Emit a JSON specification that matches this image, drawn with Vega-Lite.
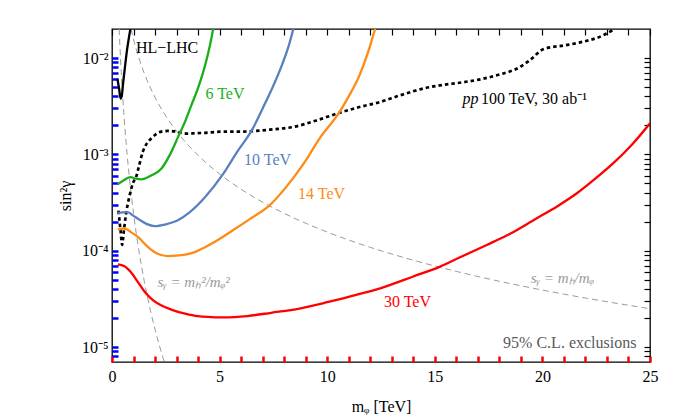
{
  "$schema": "https://vega.github.io/schema/vega-lite/v6.json",
  "width": 538,
  "height": 333,
  "autosize": {"type": "none"},
  "padding": {"left": 112, "top": 29, "right": 36, "bottom": 56},
  "background": "white",
  "config": {
    "view": {"stroke": "black", "strokeWidth": 1.3}
  },
  "datasets": {
    "curves": [
      {"s": "HL", "x": 0.25, "y": 0.0061}, {"s": "HL", "x": 0.33, "y": 0.0048}, {"s": "HL", "x": 0.40, "y": 0.0038}, {"s": "HL", "x": 0.45, "y": 0.0040}, {"s": "HL", "x": 0.52, "y": 0.0056}, {"s": "HL", "x": 0.60, "y": 0.0080}, {"s": "HL", "x": 0.70, "y": 0.0122}, {"s": "HL", "x": 0.80, "y": 0.0170}, {"s": "HL", "x": 0.88, "y": 0.0215},
      {"s": "g6", "x": 0.27, "y": 0.00049}, {"s": "g6", "x": 0.5, "y": 0.00053}, {"s": "g6", "x": 0.86, "y": 0.00058}, {"s": "g6", "x": 1.1, "y": 0.00056}, {"s": "g6", "x": 1.36, "y": 0.00055}, {"s": "g6", "x": 1.8, "y": 0.0006}, {"s": "g6", "x": 2.29, "y": 0.00071}, {"s": "g6", "x": 2.7, "y": 0.001}, {"s": "g6", "x": 3.06, "y": 0.0015}, {"s": "g6", "x": 3.4, "y": 0.0022}, {"s": "g6", "x": 3.68, "y": 0.0032}, {"s": "g6", "x": 4.0, "y": 0.0049}, {"s": "g6", "x": 4.3, "y": 0.008}, {"s": "g6", "x": 4.55, "y": 0.0135}, {"s": "g6", "x": 4.72, "y": 0.021},
      {"s": "b10", "x": 0.27, "y": 0.000247}, {"s": "b10", "x": 0.5, "y": 0.00025}, {"s": "b10", "x": 0.73, "y": 0.000252}, {"s": "b10", "x": 1.0, "y": 0.00023}, {"s": "b10", "x": 1.2, "y": 0.000215}, {"s": "b10", "x": 1.6, "y": 0.00019}, {"s": "b10", "x": 1.97, "y": 0.00018}, {"s": "b10", "x": 2.5, "y": 0.000188}, {"s": "b10", "x": 3.06, "y": 0.000207}, {"s": "b10", "x": 3.6, "y": 0.00025}, {"s": "b10", "x": 4.3, "y": 0.000355}, {"s": "b10", "x": 5.15, "y": 0.00062}, {"s": "b10", "x": 5.8, "y": 0.00105}, {"s": "b10", "x": 6.54, "y": 0.00185}, {"s": "b10", "x": 7.0, "y": 0.003}, {"s": "b10", "x": 7.47, "y": 0.005}, {"s": "b10", "x": 7.9, "y": 0.0085}, {"s": "b10", "x": 8.2, "y": 0.0131}, {"s": "b10", "x": 8.45, "y": 0.021},
      {"s": "o14", "x": 0.27, "y": 0.000166}, {"s": "o14", "x": 0.58, "y": 0.00017}, {"s": "o14", "x": 0.9, "y": 0.000155}, {"s": "o14", "x": 1.2, "y": 0.000139}, {"s": "o14", "x": 1.6, "y": 0.000113}, {"s": "o14", "x": 1.97, "y": 0.000097}, {"s": "o14", "x": 2.59, "y": 0.000088}, {"s": "o14", "x": 3.0, "y": 0.000089}, {"s": "o14", "x": 3.52, "y": 0.000092}, {"s": "o14", "x": 3.9, "y": 0.000098}, {"s": "o14", "x": 4.3, "y": 0.000108}, {"s": "o14", "x": 4.92, "y": 0.000129}, {"s": "o14", "x": 5.6, "y": 0.000162}, {"s": "o14", "x": 6.4, "y": 0.000213}, {"s": "o14", "x": 7.32, "y": 0.000296}, {"s": "o14", "x": 8.4, "y": 0.00056}, {"s": "o14", "x": 9.0, "y": 0.00086}, {"s": "o14", "x": 9.64, "y": 0.00146}, {"s": "o14", "x": 10.57, "y": 0.00274}, {"s": "o14", "x": 11.0, "y": 0.004}, {"s": "o14", "x": 11.5, "y": 0.0066}, {"s": "o14", "x": 11.9, "y": 0.0115}, {"s": "o14", "x": 12.25, "y": 0.021},
      {"s": "r30", "x": 0.27, "y": 0.000072}, {"s": "r30", "x": 0.58, "y": 0.000069}, {"s": "r30", "x": 0.9, "y": 0.000059}, {"s": "r30", "x": 1.2, "y": 0.0000475}, {"s": "r30", "x": 1.5, "y": 0.000038}, {"s": "r30", "x": 1.9, "y": 0.0000307}, {"s": "r30", "x": 2.3, "y": 0.000027}, {"s": "r30", "x": 2.75, "y": 0.0000245}, {"s": "r30", "x": 3.4, "y": 0.0000222}, {"s": "r30", "x": 3.99, "y": 0.0000209}, {"s": "r30", "x": 4.6, "y": 0.0000205}, {"s": "r30", "x": 5.23, "y": 0.0000203}, {"s": "r30", "x": 6.3, "y": 0.000021}, {"s": "r30", "x": 7.4, "y": 0.0000227}, {"s": "r30", "x": 8.71, "y": 0.0000251}, {"s": "r30", "x": 10.0, "y": 0.0000292}, {"s": "r30", "x": 11.11, "y": 0.0000338}, {"s": "r30", "x": 12.5, "y": 0.000041}, {"s": "r30", "x": 14.0, "y": 0.000054}, {"s": "r30", "x": 15.22, "y": 0.000068}, {"s": "r30", "x": 16.3, "y": 0.000088}, {"s": "r30", "x": 17.39, "y": 0.000114}, {"s": "r30", "x": 18.5, "y": 0.00015}, {"s": "r30", "x": 19.7, "y": 0.000215}, {"s": "r30", "x": 20.7, "y": 0.00029}, {"s": "r30", "x": 21.57, "y": 0.00039}, {"s": "r30", "x": 22.5, "y": 0.00057}, {"s": "r30", "x": 23.27, "y": 0.0008}, {"s": "r30", "x": 24.2, "y": 0.00129}, {"s": "r30", "x": 25.0, "y": 0.0021},
      {"s": "pp", "x": 0.3, "y": 0.00026}, {"s": "pp", "x": 0.4, "y": 0.00016}, {"s": "pp", "x": 0.47, "y": 0.000115}, {"s": "pp", "x": 0.55, "y": 0.00016}, {"s": "pp", "x": 0.65, "y": 0.00024}, {"s": "pp", "x": 0.8, "y": 0.00036}, {"s": "pp", "x": 1.0, "y": 0.00052}, {"s": "pp", "x": 1.12, "y": 0.00058}, {"s": "pp", "x": 1.25, "y": 0.00075}, {"s": "pp", "x": 1.43, "y": 0.00106}, {"s": "pp", "x": 1.62, "y": 0.0013}, {"s": "pp", "x": 1.82, "y": 0.00146}, {"s": "pp", "x": 2.05, "y": 0.00162}, {"s": "pp", "x": 2.29, "y": 0.00172}, {"s": "pp", "x": 2.6, "y": 0.00175}, {"s": "pp", "x": 2.9, "y": 0.00173}, {"s": "pp", "x": 3.2, "y": 0.00168}, {"s": "pp", "x": 3.52, "y": 0.00164}, {"s": "pp", "x": 3.9, "y": 0.00166}, {"s": "pp", "x": 4.3, "y": 0.00167}, {"s": "pp", "x": 5.07, "y": 0.00172}, {"s": "pp", "x": 5.8, "y": 0.00172}, {"s": "pp", "x": 6.54, "y": 0.00174}, {"s": "pp", "x": 7.5, "y": 0.00182}, {"s": "pp", "x": 8.4, "y": 0.00192}, {"s": "pp", "x": 9.5, "y": 0.00225}, {"s": "pp", "x": 10.57, "y": 0.0027}, {"s": "pp", "x": 11.5, "y": 0.0031}, {"s": "pp", "x": 12.43, "y": 0.00348}, {"s": "pp", "x": 13.36, "y": 0.00408}, {"s": "pp", "x": 14.75, "y": 0.00498}, {"s": "pp", "x": 15.22, "y": 0.00519}, {"s": "pp", "x": 16.3, "y": 0.0056}, {"s": "pp", "x": 17.23, "y": 0.00608}, {"s": "pp", "x": 17.85, "y": 0.00659}, {"s": "pp", "x": 18.94, "y": 0.00803}, {"s": "pp", "x": 19.4, "y": 0.0094}, {"s": "pp", "x": 20.06, "y": 0.0124}, {"s": "pp", "x": 21.0, "y": 0.0135}, {"s": "pp", "x": 21.8, "y": 0.0146}, {"s": "pp", "x": 22.8, "y": 0.0171}, {"s": "pp", "x": 23.35, "y": 0.02},
      {"s": "d1", "x": 0.884, "y": 0.02}, {"s": "d1", "x": 1.0, "y": 0.015625}, {"s": "d1", "x": 1.25, "y": 0.01}, {"s": "d1", "x": 1.5, "y": 0.006944}, {"s": "d1", "x": 2.0, "y": 0.003906}, {"s": "d1", "x": 2.5, "y": 0.0025}, {"s": "d1", "x": 3.0, "y": 0.001736}, {"s": "d1", "x": 4.0, "y": 0.0009766}, {"s": "d1", "x": 5.0, "y": 0.000625}, {"s": "d1", "x": 6.0, "y": 0.000434}, {"s": "d1", "x": 7.0, "y": 0.000319}, {"s": "d1", "x": 8.0, "y": 0.000244}, {"s": "d1", "x": 10.0, "y": 0.00015625}, {"s": "d1", "x": 12.0, "y": 0.0001085}, {"s": "d1", "x": 14.0, "y": 0.0000797}, {"s": "d1", "x": 16.0, "y": 0.000061}, {"s": "d1", "x": 18.0, "y": 0.0000482}, {"s": "d1", "x": 20.0, "y": 0.00003906}, {"s": "d1", "x": 22.0, "y": 0.0000323}, {"s": "d1", "x": 25.0, "y": 0.000025},
      {"s": "d2", "x": 0.332, "y": 0.02}, {"s": "d2", "x": 0.4, "y": 0.009537}, {"s": "d2", "x": 0.5, "y": 0.003906}, {"s": "d2", "x": 0.6, "y": 0.001884}, {"s": "d2", "x": 0.7, "y": 0.001017}, {"s": "d2", "x": 0.8, "y": 0.000596}, {"s": "d2", "x": 1.0, "y": 0.000244}, {"s": "d2", "x": 1.2, "y": 0.0001177}, {"s": "d2", "x": 1.5, "y": 0.0000482}, {"s": "d2", "x": 1.8, "y": 0.00002325}, {"s": "d2", "x": 2.0, "y": 0.00001526}, {"s": "d2", "x": 2.2, "y": 0.00001042}, {"s": "d2", "x": 2.43, "y": 0.000007}
    ],
    "labels": [
      {"s": "HL", "x": 2.56, "y": 0.01264, "t": "HL−LHC"},
      {"s": "g6", "x": 5.25, "y": 0.00426, "t": "6 TeV"},
      {"s": "b10", "x": 7.23, "y": 0.000867, "t": "10 TeV"},
      {"s": "o14", "x": 9.74, "y": 0.000392, "t": "14 TeV"},
      {"s": "r30", "x": 13.73, "y": 0.0000295, "t": "30 TeV"}
    ],
    "pplab": [{"x": 16.29, "y": 0.00378, "t": "pp"}],
    "pplab2": [{"x": 17.15, "y": 0.00378, "t": "100 TeV, 30 ab⁻¹"}],
    "slabs": [
      {"x": 3.79, "y": 0.0000475, "t": "sᵧ = mₕ²/mᵩ²"},
      {"x": 20.93, "y": 0.0000515, "t": "sᵧ = mₕ/mᵩ"}
    ],
    "cl": [{"x": 24.37, "y": 0.0000109, "t": "95% C.L. exclusions"}]
  },
  "resolve": {"axis": {"x": "independent", "y": "independent"}},
  "layer": [
    {
      "data": {"name": "curves"},
      "transform": [{"filter": "datum.s == 'd1' || datum.s == 'd2'"}],
      "mark": {"type": "line", "interpolate": "monotone", "color": "#9a9a9a", "strokeWidth": 1, "strokeDash": [6, 4], "clip": true},
      "encoding": {
        "x": {
          "field": "x", "type": "quantitative",
          "scale": {"domain": [0, 25], "nice": false, "zero": false},
          "axis": {
            "orient": "bottom",
            "values": [0,1,2,3,4,5,6,7,8,9,10,11,12,13,14,15,16,17,18,19,20,21,22,23,24,25],
            "labelExpr": "datum.value % 5 == 0 ? datum.label : ''",
            "tickSize": -6, "tickColor": "#ff0000", "tickWidth": 2.5,
            "domain": false, "grid": false,
            "labelFlush": false, "labelOverlap": false,
            "labelFont": "Liberation Serif", "labelFontSize": 16, "labelColor": "black",
            "labelPadding": 12,
            "title": "mᵩ  [TeV]", "titleFont": "Liberation Serif", "titleFontSize": 16,
            "titleFontWeight": "normal", "titleColor": "black", "titlePadding": 14
          }
        },
        "y": {
          "field": "y", "type": "quantitative",
          "scale": {"type": "log", "domain": [0.000007, 0.02], "nice": false},
          "axis": {
            "orient": "left",
            "values": [0.000008,0.000009,0.00001,0.00002,0.00003,0.00004,0.00005,0.00006,0.00007,0.00008,0.00009,0.0001,0.0002,0.0003,0.0004,0.0005,0.0006,0.0007,0.0008,0.0009,0.001,0.002,0.003,0.004,0.005,0.006,0.007,0.008,0.009,0.01],
            "labelExpr": "datum.value == 0.01 ? '10⁻²' : datum.value == 0.001 ? '10⁻³' : datum.value == 0.0001 ? '10⁻⁴' : datum.value == 0.00001 ? '10⁻⁵' : ''",
            "tickSize": -6, "tickColor": "#0000ff", "tickWidth": 2.5,
            "domain": false, "grid": false,
            "labelFlush": false, "labelOverlap": false,
            "labelFont": "Liberation Serif", "labelFontSize": 16, "labelColor": "black",
            "labelPadding": 10,
            "title": "sin²γ", "titleFont": "Liberation Serif", "titleFontSize": 16,
            "titleFontWeight": "normal", "titleColor": "black", "titlePadding": 8
          }
        },
        "detail": {"field": "s", "type": "nominal"}
      }
    },
    {
      "data": {"name": "labels"},
      "mark": {"type": "point", "opacity": 0},
      "encoding": {
        "x": {"field": "x", "type": "quantitative",
          "axis": {"orient": "top", "values": [0,1,2,3,4,5,6,7,8,9,10,11,12,13,14,15,16,17,18,19,20,21,22,23,24,25], "labels": false, "tickSize": -6, "tickColor": "black", "tickWidth": 1.2, "domain": false, "grid": false, "title": null}},
        "y": {"field": "y", "type": "quantitative",
          "axis": {"orient": "right", "values": [0.000008,0.000009,0.00001,0.00002,0.00003,0.00004,0.00005,0.00006,0.00007,0.00008,0.00009,0.0001,0.0002,0.0003,0.0004,0.0005,0.0006,0.0007,0.0008,0.0009,0.001,0.002,0.003,0.004,0.005,0.006,0.007,0.008,0.009,0.01], "labels": false, "tickSize": -6, "tickColor": "black", "tickWidth": 1.2, "domain": false, "grid": false, "title": null}}
      }
    },
    {
      "data": {"name": "curves"},
      "transform": [{"filter": "datum.s == 'pp'"}],
      "mark": {"type": "line", "clip": true, "interpolate": "monotone", "color": "black", "strokeWidth": 2.7, "strokeDash": [3.5, 3], "strokeCap": "butt"},
      "encoding": {
        "x": {"field": "x", "type": "quantitative", "axis": null},
        "y": {"field": "y", "type": "quantitative", "axis": null}
      }
    },
    {
      "data": {"name": "curves"},
      "transform": [{"filter": "datum.s != 'pp' && datum.s != 'd1' && datum.s != 'd2'"}],
      "mark": {"type": "line", "clip": true, "interpolate": "monotone", "strokeWidth": 2.3},
      "encoding": {
        "x": {"field": "x", "type": "quantitative", "axis": null},
        "y": {"field": "y", "type": "quantitative", "axis": null},
        "color": {
          "field": "s", "type": "nominal", "legend": null,
          "scale": {
            "domain": ["HL", "g6", "b10", "o14", "r30"],
            "range": ["#000000", "#1aaf1a", "#5a80bd", "#ff8a14", "#ff0000"]
          }
        }
      }
    },
    {
      "data": {"name": "labels"},
      "mark": {"type": "text", "font": "Liberation Serif", "fontSize": 16, "align": "center", "baseline": "middle"},
      "encoding": {
        "x": {"field": "x", "type": "quantitative", "axis": null},
        "y": {"field": "y", "type": "quantitative", "axis": null},
        "text": {"field": "t"},
        "color": {"field": "s", "type": "nominal", "legend": null}
      }
    },
    {
      "data": {"name": "pplab"},
      "mark": {"type": "text", "font": "Liberation Serif", "fontSize": 16, "fontStyle": "italic", "align": "left", "baseline": "middle", "color": "black"},
      "encoding": {
        "x": {"field": "x", "type": "quantitative", "axis": null},
        "y": {"field": "y", "type": "quantitative", "axis": null},
        "text": {"field": "t"}
      }
    },
    {
      "data": {"name": "pplab2"},
      "mark": {"type": "text", "font": "Liberation Serif", "fontSize": 16, "align": "left", "baseline": "middle", "color": "black"},
      "encoding": {
        "x": {"field": "x", "type": "quantitative", "axis": null},
        "y": {"field": "y", "type": "quantitative", "axis": null},
        "text": {"field": "t"}
      }
    },
    {
      "data": {"name": "slabs"},
      "mark": {"type": "text", "font": "Liberation Serif", "fontSize": 15, "fontStyle": "italic", "align": "center", "baseline": "middle", "color": "#9a9a9a"},
      "encoding": {
        "x": {"field": "x", "type": "quantitative", "axis": null},
        "y": {"field": "y", "type": "quantitative", "axis": null},
        "text": {"field": "t"}
      }
    },
    {
      "data": {"name": "cl"},
      "mark": {"type": "text", "font": "Liberation Serif", "fontSize": 16, "align": "right", "baseline": "middle", "color": "#5a5a5a"},
      "encoding": {
        "x": {"field": "x", "type": "quantitative", "axis": null},
        "y": {"field": "y", "type": "quantitative", "axis": null},
        "text": {"field": "t"}
      }
    }
  ]
}
